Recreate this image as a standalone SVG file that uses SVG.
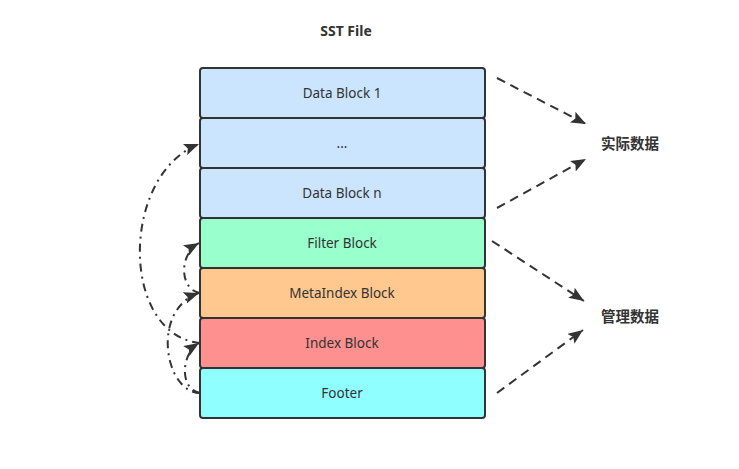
<svg xmlns="http://www.w3.org/2000/svg" width="739" height="469" viewBox="0 0 739 469">
<defs>
<style>
.box{stroke:#333;stroke-width:2}
.lbl{font-family:"Noto Sans","Liberation Sans","Noto Sans CJK SC",sans-serif;font-size:13.5px;fill:#333;text-anchor:middle}
.ttl{font-family:"Noto Sans","Liberation Sans","Noto Sans CJK SC",sans-serif;font-size:14px;font-weight:bold;fill:#333;text-anchor:middle}
.cjk{font-family:"Noto Sans CJK SC",sans-serif;font-size:14.5px;font-weight:bold;fill:#333;text-anchor:middle}
.dash{fill:none;stroke:#333;stroke-width:2;stroke-dasharray:9 6;marker-end:url(#ah)}
.dd{fill:none;stroke:#333;stroke-width:2;stroke-dasharray:8 5 2 5;marker-end:url(#ah)}
</style>
<marker id="ah" markerUnits="userSpaceOnUse" markerWidth="16" markerHeight="12" refX="15" refY="6" orient="auto">
<path d="M0,0 L15,6 L0,12 L3,6 Z" fill="#333"/>
</marker>
</defs>
<rect width="739" height="469" fill="#fff"/>
<text class="ttl" x="346" y="36">SST File</text>
<g id="data1"><rect class="box" x="200" y="68" width="285" height="50" rx="3" fill="#cce5ff"/><text class="lbl" x="342" y="98">Data Block 1</text></g>
<g id="dots"><rect class="box" x="200" y="118" width="285" height="50" rx="3" fill="#cce5ff"/><text class="lbl" x="342" y="148">...</text></g>
<g id="datan"><rect class="box" x="200" y="168" width="285" height="50" rx="3" fill="#cce5ff"/><text class="lbl" x="342" y="198">Data Block n</text></g>
<g id="filter"><rect class="box" x="200" y="218" width="285" height="50" rx="3" fill="#99ffcc"/><text class="lbl" x="342" y="248">Filter Block</text></g>
<g id="metaindex"><rect class="box" x="200" y="268" width="285" height="50" rx="3" fill="#ffc88f"/><text class="lbl" x="342" y="298">MetaIndex Block</text></g>
<g id="index"><rect class="box" x="200" y="318" width="285" height="50" rx="3" fill="#ff9090"/><text class="lbl" x="342" y="348">Index Block</text></g>
<g id="footer"><rect class="box" x="200" y="368" width="285" height="50" rx="3" fill="#90ffff"/><text class="lbl" x="342" y="398">Footer</text></g>
<g id="actual"><text class="cjk" x="630" y="149">实际数据</text></g>
<g id="manage"><text class="cjk" x="630" y="322">管理数据</text></g>
<g id="connectors">
<path class="dash" d="M497,78 L586,124"/>
<path class="dash" d="M497,208 L586,159"/>
<path class="dash" d="M492,241 L584,301"/>
<path class="dash" d="M497,393 L583,330"/>
<path class="dd" d="M200,343 C120,335 120,175 199,144"/>
<path class="dd" d="M200,393 C165,393 150,310 199,293"/>
<path class="dd" d="M200,393 C180,390 180,355 199,343"/>
<path class="dd" d="M200,293 C180,290 178,255 199,243"/>
</g>
</svg>
